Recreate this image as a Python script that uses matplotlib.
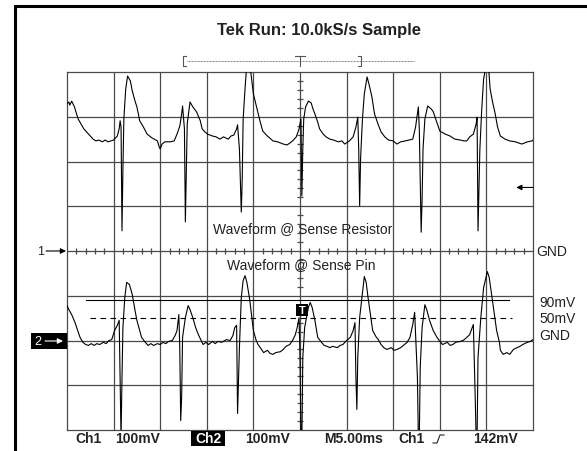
import numpy as np
import matplotlib
matplotlib.use("Agg")
import matplotlib.pyplot as plt
from matplotlib.patches import Rectangle

plt.rcParams['font.family'] = ['Liberation Sans', 'DejaVu Sans']

# ---------------- data (time in ms, voltage in mV relative to channel GND) ----
ch1_t = [-25.0, -24.8, -24.7, -24.5, -24.2, -24.0, -23.8, -23.5, -23.2, -22.9, -22.5, -22.2,
         -21.9, -21.6, -21.2, -20.9, -20.6, -20.3, -20.0, -19.6, -19.4, -19.3, -19.2, -19.1,
         -19.0, -18.9, -18.7, -18.5, -18.2, -18.0, -17.7, -17.5, -17.2, -16.8, -16.4, -15.9,
         -15.3, -15.1, -15.0, -14.8, -14.5, -13.9, -13.5, -13.2, -12.9, -12.7, -12.6, -12.4,
         -12.3, -12.2, -12.1, -11.8, -11.5, -11.1, -10.7, -10.5, -10.2, -9.9, -9.4, -9.0,
         -8.6, -8.2, -7.7, -7.4, -7.1, -6.8, -6.7, -6.5, -6.3, -6.2, -6.1, -5.9, -5.7, -5.4,
         -5.0, -4.6, -4.3, -4.0, -3.5, -2.9, -2.4, -1.8, -1.4, -1.1, -0.8, -0.4, -0.1, 0.1,
         0.2, 0.3, 0.4, 0.6, 0.9, 1.2, 1.4, 1.6, 1.9, 2.1, 2.5, 2.8, 3.2, 3.6, 4.1, 4.5,
         4.8, 5.3, 5.7, 6.0, 6.2, 6.3, 6.4, 6.5, 6.7, 6.9, 7.2, 7.4, 7.7, 8.0, 8.4, 8.7,
         9.1, 9.5, 10.0, 10.4, 10.8, 11.3, 11.7, 12.1, 12.4, 12.7, 12.8, 13.0, 13.1, 13.2,
         13.4, 13.7, 14.1, 14.3, 14.7, 15.0, 15.6, 16.1, 16.6, 17.2, 17.6, 17.9, 18.2, 18.6,
         18.9, 19.0, 19.1, 19.3, 19.5, 19.7, 20.0, 20.2, 20.4, 20.7, 20.9, 21.2, 21.5, 22.0,
         22.5, 23.1, 23.8, 24.4, 24.9, 25.0]
ch1_mv = [329, 333, 326, 335, 322, 308, 295, 284, 273, 266, 257, 250,
          246, 248, 244, 248, 244, 246, 248, 257, 273, 291, 277, 45,
          183, 295, 362, 391, 380, 358, 335, 322, 291, 277, 261, 253,
          246, 232, 228, 239, 244, 244, 246, 261, 279, 306, 324, 273,
          65, 172, 284, 333, 322, 311, 291, 273, 266, 261, 257, 255,
          250, 255, 250, 257, 259, 273, 282, 228, 87, 161, 295, 362, 420, 420,
          351, 317, 291, 268, 257, 246, 244, 239, 237, 241, 246, 255, 273, 295,
          123, 228, 295, 322, 335, 331, 317, 306, 288, 273, 261, 255, 250, 248, 244, 246,
          239, 246, 255, 277, 299, 228, 101, 206, 295, 351, 389, 373, 346, 306, 282, 266,
          255, 248, 246, 239, 244, 246, 248, 250, 277, 322, 273, 42, 116, 228,
          295, 324, 317, 311, 286, 268, 261, 257, 250, 248, 246, 246, 255, 261,
          284, 299, 45, 228, 317, 384, 420, 420, 362, 329, 311, 277, 257, 250,
          246, 244, 239, 244, 246, 248]

ch2_t = [-25.0, -24.8, -24.5, -24.1, -23.9, -23.6, -23.3, -23.0, -22.7, -22.4, -22.1, -21.8,
         -21.5, -21.1, -20.8, -20.5, -20.2, -19.9, -19.6, -19.4, -19.3, -19.2, -19.1, -19.0,
         -18.8, -18.6, -18.3, -18.0, -17.7, -17.5, -17.2, -17.0, -16.6, -16.3, -16.0, -15.7,
         -15.3, -15.0, -14.7, -14.4, -14.1, -13.7, -13.4, -13.2, -13.0, -12.9, -12.8, -12.7,
         -12.6, -12.3, -12.0, -11.8, -11.5, -11.2, -10.9, -10.6, -10.4, -10.1, -9.8, -9.4,
         -9.1, -8.8, -8.4, -7.9, -7.5, -7.2, -7.0, -6.8, -6.7, -6.5, -6.3, -6.1, -5.9, -5.7,
         -5.4, -5.0, -4.7, -4.5, -4.2, -3.9, -3.5, -3.2, -2.9, -2.6, -2.1, -1.8, -1.5, -1.1,
         -0.8, -0.5, -0.3, -0.1, 0.0, 0.1, 0.2, 0.3, 0.5, 0.9, 1.1, 1.3, 1.6, 1.9, 2.3, 2.6,
         2.9, 3.2, 3.5, 4.0, 4.3, 4.6, 5.0, 5.4, 5.7, 5.9, 6.0, 6.1, 6.2, 6.4, 6.7, 6.9,
         7.1, 7.3, 7.6, 7.8, 8.2, 8.4, 8.7, 9.0, 9.3, 9.8, 10.1, 10.4, 10.8, 11.2, 11.5,
         11.8, 12.1, 12.3, 12.6, 12.7, 12.8, 12.9, 13.1, 13.4, 13.6, 13.9, 14.3, 14.7, 15.0,
         15.3, 15.8, 16.1, 16.4, 16.7, 17.2, 17.5, 17.9, 18.2, 18.6, 18.8, 18.9, 19.0, 19.1,
         19.4, 19.7, 20.1, 20.3, 20.6, 20.9, 21.1, 21.4, 21.5, 21.8, 22.2, 22.5, 22.9, 23.3,
         23.6, 23.9, 24.4, 24.7, 25.0]
ch2_mv = [78, 69, 58, 38, 25, 7, -4, -9, -11, -7, -11, -7,
          -9, -4, -7, 0, 2, 22, 34, 45, -83, -220, -83, 29,
          96, 130, 125, 103, 67, 45, 22, 7, -4, -11, -7, -11,
          -7, -9, -4, -7, -2, 0, 11, 22, 58, -16, -179, -127,
          7, 51, 78, 69, 51, 29, 13, 0, -9, -4, -9, -2,
          -7, -2, -4, 2, 0, 11, 29, 34, -163, -16, 96, 134, 145, 130,
          92, 22, 0, -9, -18, -27, -22, -29, -31, -27, -25, -20, -13, -9,
          0, 13, 29, 51, -38, -220, -220, -38, 29, 74, 85, 74, 45, 7, -4, -11,
          -13, -16, -13, -16, -11, -9, 0, 7, 22, 40, -83, -154, -38, 51, 107, 143,
          130, 96, 51, 22, 7, 2, -9, -16, -20, -16, -22, -20, -16, -9, -4,
          7, 36, 63, -83, -220, -220, -60, 29, 80, 69, 45, 22, 7, -2,
          -9, -4, -11, -9, -4, -2, 0, 7, 13, 36, -127, -220, -220, -38,
          51, 118, 154, 141, 96, 51, 22, -4, -22, -31, -27, -31, -20, -16,
          -13, -9, -4, -2, 2]

ch1_gnd_div = 0.0          # Ch1 ground reference (divisions)
ch2_gnd_div = -2.0         # Ch2 ground reference (divisions)
mv_per_div = 100.0
ms_per_div = 5.0
trigger_level_mv = 142     # Ch1 trigger level
cursor_levels_mv = [90, 50]
cursor_labels = ["90mV", "50mV", "GND"]
footer_labels = ["Ch1", "100mV", "Ch2", "100mV", "M5.00ms", "Ch1", "142mV"]
title_text = "Tek Run: 10.0kS/s Sample"

# ---------------- figure ----------------------------------------------------
W, H = 587, 452
fig = plt.figure(figsize=(W / 100, H / 100), dpi=100)
fig.patch.set_facecolor('white')

ax = fig.add_axes([67 / W, 1 - 431 / H, 466 / W, 358 / H])
ax.set_xlim(-25, 25)
ax.set_ylim(-4, 4)
ax.set_xticks([]); ax.set_yticks([])
gridc = '#4a4a4a'
for s in ax.spines.values():
    s.set_color(gridc); s.set_linewidth(0.9)
for xv in np.arange(-20, 21, 5):
    ax.axvline(xv, color=gridc, lw=0.9, zorder=1)
for yv in np.arange(-3, 4, 1):
    ax.axhline(yv, color=gridc, lw=0.9, zorder=1)

# center cross minor ticks
xt = [x for x in np.arange(-25, 25.01, 1.0) if abs(x % 5) > 1e-6 and abs(x % 5 - 5) > 1e-6]
ax.plot(xt, np.zeros(len(xt)), ls='none', marker='|', ms=5, mew=0.9, color=gridc, zorder=1)
yt = [y for y in np.arange(-4, 4.01, 0.2) if abs(y - round(y)) > 1e-6]
ax.plot(np.zeros(len(yt)), yt, ls='none', marker='_', ms=5, mew=0.9, color=gridc, zorder=1)

# waveforms
ax.plot(ch1_t, np.array(ch1_mv) / mv_per_div + ch1_gnd_div, color='black', lw=0.8, zorder=3)
ax.plot(ch2_t, np.array(ch2_mv) / mv_per_div + ch2_gnd_div, color='black', lw=0.8, zorder=3)

# cursor lines on Ch2
ax.plot([-23.0, 22.4], [ch2_gnd_div + cursor_levels_mv[0] / mv_per_div] * 2,
        color='black', lw=0.8, zorder=2)
ax.plot([-22.5, 22.7], [ch2_gnd_div + cursor_levels_mv[1] / mv_per_div] * 2,
        color='black', lw=0.8, ls=(0, (5, 4)), zorder=2)

# trigger level arrow on right
ty = ch1_gnd_div + trigger_level_mv / mv_per_div
ax.annotate('', xy=(23.2, ty), xytext=(25, ty),
            arrowprops=dict(arrowstyle='-|>', color='black', lw=0.8,
                            mutation_scale=8, shrinkA=0, shrinkB=0), zorder=4)

# ---------------- overlay in pixel coordinates -----------------------------
ov = fig.add_axes([0, 0, 1, 1], zorder=5)
ov.set_xlim(0, W); ov.set_ylim(H, 0); ov.axis('off')

# frame (left + top)
ov.plot([15, 15, W], [H, 7, 7], color='black', lw=2.2, solid_capstyle='butt',
        solid_joinstyle='miter')

txtc = '#222222'
ov.text(319, 31, title_text, ha='center', va='center', fontsize=12,
        fontweight='bold', color=txtc)

# record-length bracket
ov.plot([186, 183, 183, 186], [57, 57, 67, 67], color='#555555', lw=0.8)
ov.plot([358, 361, 361, 358], [57, 57, 67, 67], color='#555555', lw=0.8)
ov.plot([187, 414], [62, 62], color='#555555', lw=0.6, ls=(0, (1, 0.8)))
ov.plot([295, 305], [57, 57], color='#555555', lw=0.8)
ov.plot([300, 300], [57, 67], color='#555555', lw=0.8)

# waveform captions
ov.text(303, 229, "Waveform @ Sense Resistor", ha='center', va='center',
        fontsize=10, color=txtc)
ov.text(301, 265, "Waveform @ Sense Pin", ha='center', va='center',
        fontsize=10, color=txtc)

# channel markers
ov.text(41, 252, "1", ha='center', va='center', fontsize=9, color=txtc)
ov.annotate('', xy=(66, 252), xytext=(46, 252),
            arrowprops=dict(arrowstyle='-|>', color='black', lw=0.8,
                            mutation_scale=8, shrinkA=0, shrinkB=0))
ov.add_patch(Rectangle((31, 334), 36, 16, facecolor='black', edgecolor='none'))
ov.text(38, 342.5, "2", ha='center', va='center', fontsize=9, color='white')
ov.annotate('', xy=(63, 342), xytext=(45, 342),
            arrowprops=dict(arrowstyle='-|>', color='white', lw=0.8,
                            mutation_scale=8, shrinkA=0, shrinkB=0))

# trigger position marker
ov.add_patch(Rectangle((296, 305), 12, 12, facecolor='black', edgecolor='none'))
ov.text(302, 311.5, "T", ha='center', va='center', fontsize=8,
        fontweight='bold', color='white')

# right side labels
ov.text(536, 252, "GND", ha='left', va='center', fontsize=10, color=txtc)
ov.text(539, 303, cursor_labels[0], ha='left', va='center', fontsize=10, color=txtc)
ov.text(539, 319, cursor_labels[1], ha='left', va='center', fontsize=10, color=txtc)
ov.text(539, 336, cursor_labels[2], ha='left', va='center', fontsize=10, color=txtc)

# footer
fy = 439.5
ov.text(75, fy, footer_labels[0], ha='left', va='center', fontsize=10, fontweight='bold', color=txtc)
ov.text(115, fy, footer_labels[1], ha='left', va='center', fontsize=10, fontweight='bold', color=txtc)
ov.add_patch(Rectangle((191, 432), 34, 15, facecolor='black', edgecolor='none'))
ov.text(208, fy, footer_labels[2], ha='center', va='center', fontsize=10, fontweight='bold', color='white')
ov.text(245, fy, footer_labels[3], ha='left', va='center', fontsize=10, fontweight='bold', color=txtc)
ov.text(324, fy, footer_labels[4], ha='left', va='center', fontsize=10, fontweight='bold', color=txtc)
ov.text(398, fy, footer_labels[5], ha='left', va='center', fontsize=10, fontweight='bold', color=txtc)
ov.plot([433, 437, 440, 444], [444, 444, 436, 436], color=txtc, lw=0.8)
ov.text(473, fy, footer_labels[6], ha='left', va='center', fontsize=10, fontweight='bold', color=txtc)

fig.savefig("out.png", dpi=100, facecolor='white')
